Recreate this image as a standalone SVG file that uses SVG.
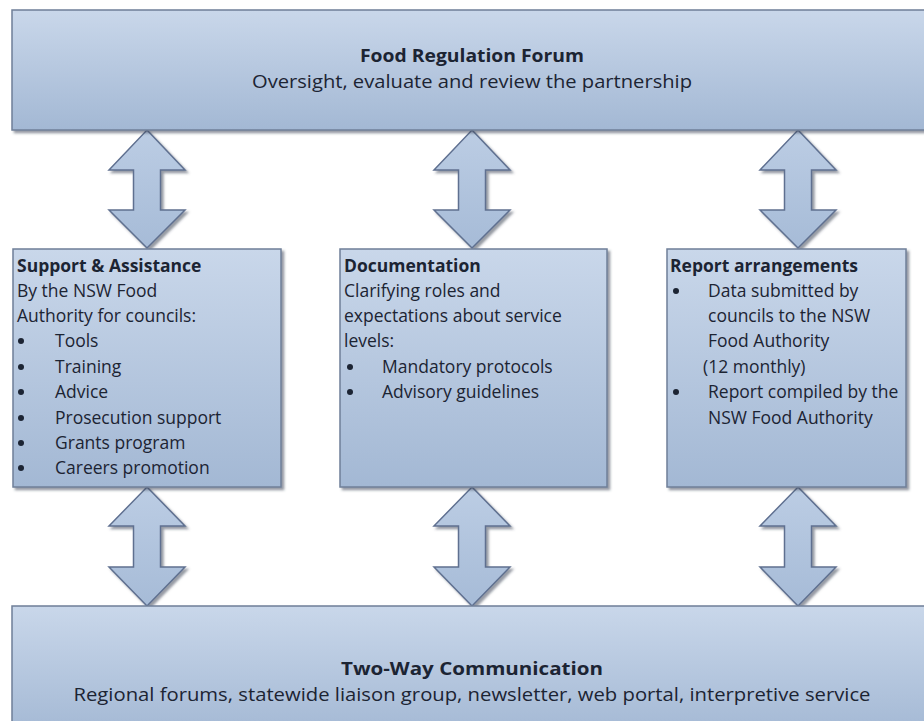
<svg xmlns="http://www.w3.org/2000/svg" width="924" height="721" viewBox="0 0 924 721">
<defs>
<linearGradient id="boxg" x1="0" y1="0" x2="0" y2="1">
<stop offset="0" stop-color="#c9d7ea"/>
<stop offset="1" stop-color="#a3b8d4"/>
</linearGradient>
<linearGradient id="arrg" x1="0" y1="0" x2="0" y2="1">
<stop offset="0" stop-color="#bccde4"/>
<stop offset="1" stop-color="#a6bbd7"/>
</linearGradient>
<filter id="sh" x="-10%" y="-10%" width="130%" height="130%">
<feDropShadow dx="2.5" dy="2.5" stdDeviation="1" flood-color="#3c4658" flood-opacity="0.55"/>
</filter>
</defs>
<style>
.box{fill:url(#boxg);stroke:#6f7f98;stroke-width:1.5;filter:url(#sh)}
.arr{fill:url(#arrg);stroke:#5f7090;stroke-width:1.5;stroke-linejoin:miter;filter:url(#sh)}
text{font-family:"Open Sans","Liberation Sans",sans-serif;fill:#1c2433;font-size:17.5px}
.b{font-weight:bold}
.c{text-anchor:middle}
.big{font-size:18.5px}
.dot{fill:#1c2433}
</style>
<rect width="924" height="721" fill="#ffffff"/>
<g id="connectors">
<path class="arr" d="M147,130 L185,170 L160.5,170 L160.5,210 L185,210 L147,248 L109,210 L133.5,210 L133.5,170 L109,170 Z"/>
<path class="arr" d="M472,130 L510,170 L485.5,170 L485.5,210 L510,210 L472,248 L434,210 L458.5,210 L458.5,170 L434,170 Z"/>
<path class="arr" d="M798,130 L836,170 L811.5,170 L811.5,210 L836,210 L798,248 L760,210 L784.5,210 L784.5,170 L760,170 Z"/>
<path class="arr" d="M147,487 L185,526 L160.5,526 L160.5,567 L185,567 L147,606 L109,567 L133.5,567 L133.5,526 L109,526 Z"/>
<path class="arr" d="M472,487 L510,526 L485.5,526 L485.5,567 L510,567 L472,606 L434,567 L458.5,567 L458.5,526 L434,526 Z"/>
<path class="arr" d="M798,487 L836,526 L811.5,526 L811.5,567 L836,567 L798,606 L760,567 L784.5,567 L784.5,526 L760,526 Z"/>
</g>
<g id="forum">
<rect class="box" x="12" y="10" width="930" height="120"/>
<text class="b c big" x="472" y="62" textLength="224" lengthAdjust="spacingAndGlyphs">Food Regulation Forum</text>
<text class="c big" x="472" y="88" textLength="440" lengthAdjust="spacingAndGlyphs">Oversight, evaluate and review the partnership</text>
</g>
<g id="support">
<rect class="box" x="13" y="249" width="268" height="238"/>
<text class="b" x="17" y="272">Support &amp; Assistance</text>
<text x="17" y="297">By the NSW Food</text>
<text x="17" y="322">Authority for councils:</text>
<circle class="dot" cx="21" cy="341" r="3"/><text x="55" y="347">Tools</text>
<circle class="dot" cx="21" cy="367" r="3"/><text x="55" y="373">Training</text>
<circle class="dot" cx="21" cy="392" r="3"/><text x="55" y="398">Advice</text>
<circle class="dot" cx="21" cy="418" r="3"/><text x="55" y="424">Prosecution support</text>
<circle class="dot" cx="21" cy="443" r="3"/><text x="55" y="449">Grants program</text>
<circle class="dot" cx="21" cy="468" r="3"/><text x="55" y="474">Careers promotion</text>
</g>
<g id="documentation">
<rect class="box" x="340" y="249" width="267" height="238"/>
<text class="b" x="344" y="272">Documentation</text>
<text x="344" y="297">Clarifying roles and</text>
<text x="344" y="322">expectations about service</text>
<text x="344" y="347">levels:</text>
<circle class="dot" cx="350" cy="367" r="3"/><text x="382" y="373">Mandatory protocols</text>
<circle class="dot" cx="350" cy="392" r="3"/><text x="382" y="398">Advisory guidelines</text>
</g>
<g id="report">
<rect class="box" x="667" y="249" width="239" height="238"/>
<text class="b" x="670" y="272">Report arrangements</text>
<circle class="dot" cx="676" cy="291" r="3"/><text x="708" y="297">Data submitted by</text>
<text x="708" y="322">councils to the NSW</text>
<text x="708" y="347">Food Authority</text>
<text x="703" y="373">(12 monthly)</text>
<circle class="dot" cx="676" cy="392" r="3"/><text x="708" y="398">Report compiled by the</text>
<text x="708" y="424">NSW Food Authority</text>
</g>
<g id="communication">
<rect class="box" x="12" y="606" width="930" height="130"/>
<text class="b c big" x="472" y="675" textLength="262" lengthAdjust="spacingAndGlyphs">Two-Way Communication</text>
<text class="c big" x="472" y="701" textLength="797" lengthAdjust="spacingAndGlyphs">Regional forums, statewide liaison group, newsletter, web portal, interpretive service</text>
</g>
</svg>
